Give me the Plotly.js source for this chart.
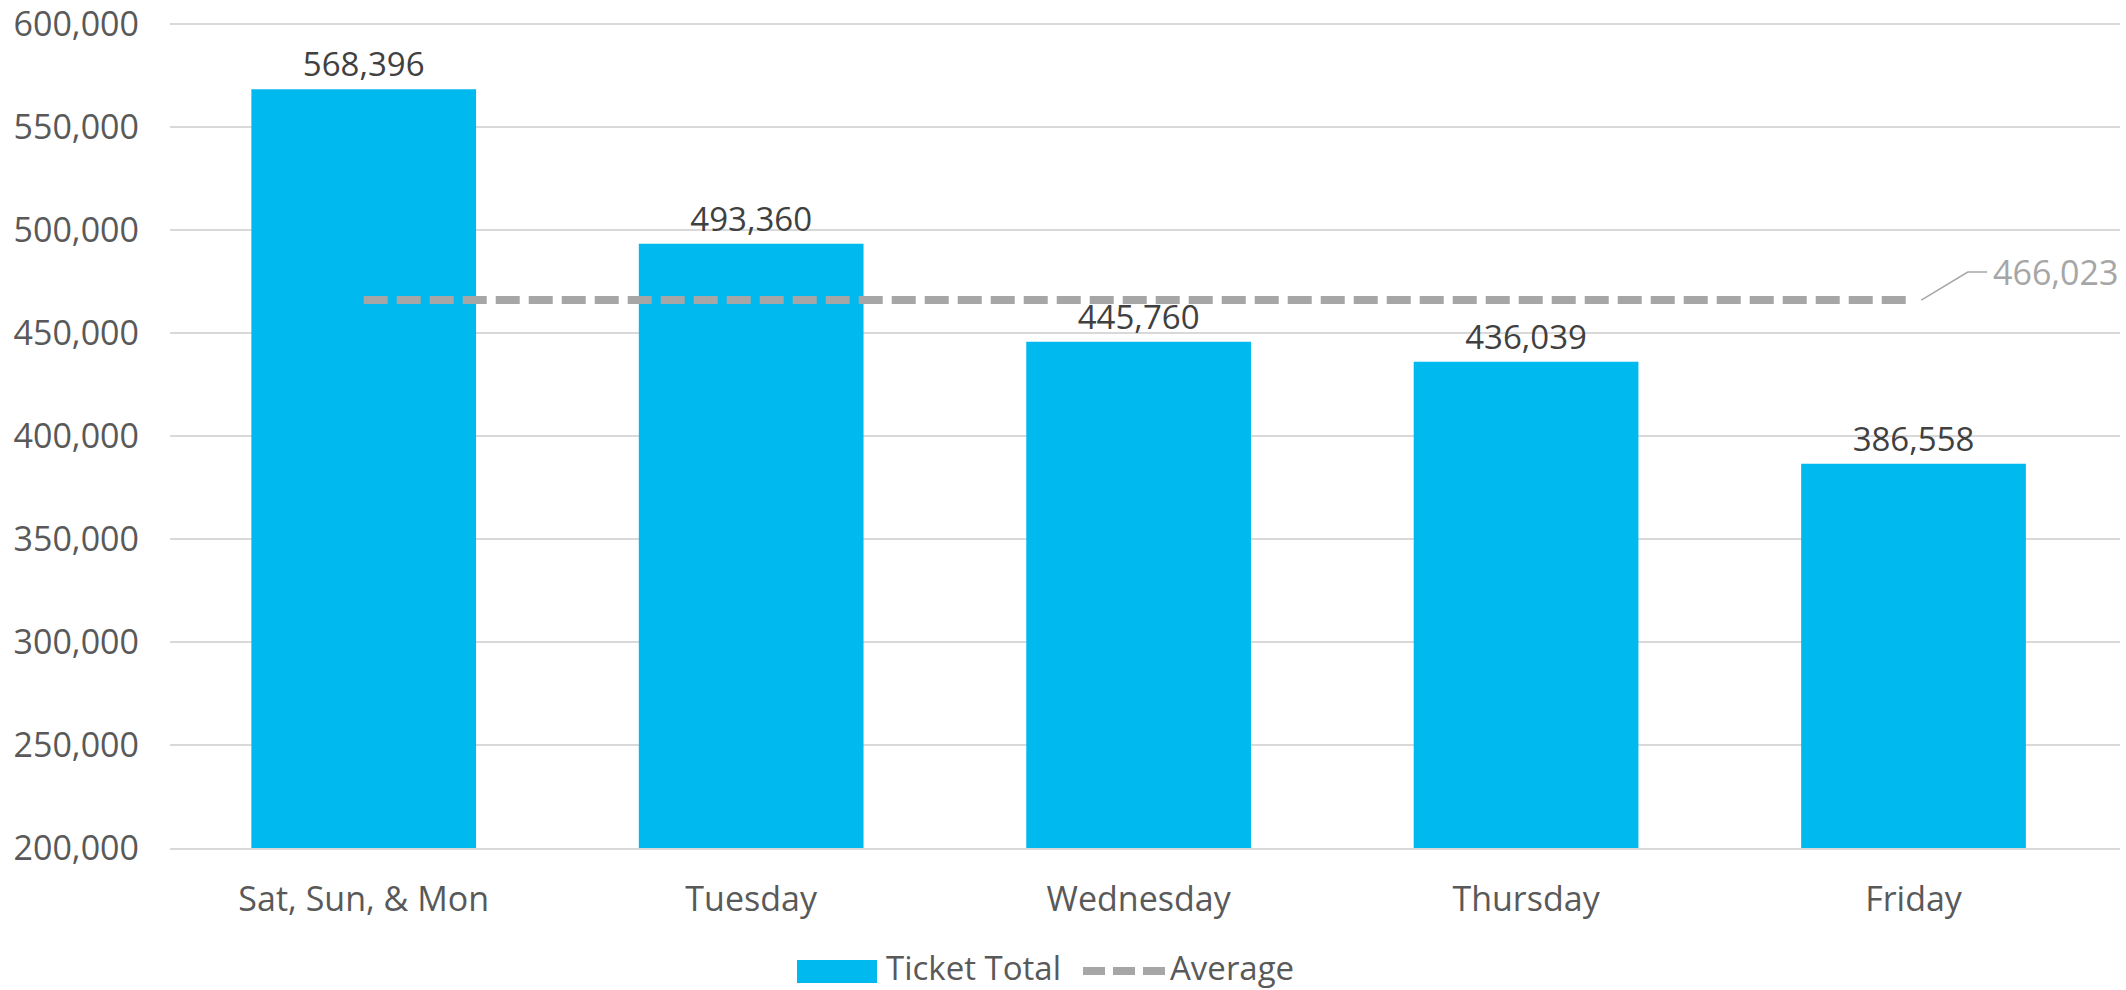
<!DOCTYPE html>
<html>
<head>
<meta charset="utf-8">
<script src="https://cdn.plot.ly/plotly-3.0.1.min.js"></script>
<style>html,body{margin:0;padding:0;background:#fff;}#chart{width:2126px;height:990px;}</style>
</head>
<body>
<div id="chart"></div>
<script>
const categories = ["Sat, Sun, & Mon", "Tuesday", "Wednesday", "Thursday", "Friday"];
const ticketTotal = [568396, 493360, 445760, 436039, 386558];
const averageValue = [466023];
const seriesNames = ["Ticket Total", "Average"];
const yTickVals = [200000, 250000, 300000, 350000, 400000, 450000, 500000, 550000, 600000];
const yTickText = ["200,000", "250,000", "300,000", "350,000", "400,000", "450,000", "500,000", "550,000", "600,000"];

const FONT = "Open Sans, Noto Sans, sans-serif";
const BLUE = "#00b9ef";
const GREY = "#a6a6a6";
const GRID = "#d9d9d9";
const avg = averageValue[0];
const last = categories.length - 1;

// plot geometry (px) for paper-coordinate legend
const L = 170, R = 6, T = 20, B = 142, W = 2126, H = 990;
const PW = W - L - R, PH = H - T - B;
const px = v => (v - L) / PW;
const py = v => (H - B - v) / PH;

const traces = [
  {
    type: "bar",
    name: seriesNames[0],
    x: categories,
    y: ticketTotal,
    marker: {color: BLUE},
    text: ticketTotal.map(v => v.toLocaleString("en-US")),
    textposition: "outside",
    textfont: {family: FONT, size: 33, color: "#404040"},
    cliponaxis: false,
    constraintext: "none",
    showlegend: false
  },
  {
    type: "scatter",
    mode: "lines",
    name: seriesNames[1],
    x: [categories[0], categories[last]],
    y: [avg, avg],
    line: {color: GREY, width: 8, dash: "24px,9px"},
    cliponaxis: false,
    showlegend: false
  }
];

const layout = {
  width: W,
  height: H,
  margin: {l: L, r: R, t: T, b: B},
  paper_bgcolor: "#ffffff",
  plot_bgcolor: "#ffffff",
  bargap: 0.42,
  showlegend: false,
  font: {family: FONT, color: "#595959", size: 33},
  xaxis: {
    type: "category",
    showgrid: false,
    showline: true,
    linecolor: GRID,
    linewidth: 2,
    ticks: "",
    zeroline: false,
    tickfont: {family: FONT, size: 34, color: "#595959"},
    ticklabelstandoff: 20,
    fixedrange: true
  },
  yaxis: {
    range: [200000, 602000],
    tickvals: yTickVals,
    ticktext: yTickText,
    showgrid: true,
    gridcolor: GRID,
    gridwidth: 2,
    zeroline: false,
    showline: false,
    ticks: "",
    tickfont: {family: FONT, size: 34, color: "#595959"},
    ticklabelstandoff: 30,
    ticklabeloverflow: "allow",
    fixedrange: true
  },
  shapes: [
    {
      type: "path",
      xref: "x",
      yref: "y",
      path: "M " + (last + 0.02) + "," + avg + " L " + (last + 0.14) + "," + (avg + 13600) + " L " + (last + 0.19) + "," + (avg + 13600),
      line: {color: GREY, width: 1.5}
    },
    // legend swatches
    {
      type: "rect", xref: "paper", yref: "paper",
      x0: px(797), x1: px(877), y0: py(983), y1: py(960),
      fillcolor: BLUE, line: {width: 0}
    },
    {
      type: "line", xref: "paper", yref: "paper",
      x0: px(1083), x1: px(1165), y0: py(971), y1: py(971),
      line: {color: GREY, width: 8, dash: "22px,8px"}
    }
  ],
  annotations: [
    {
      xref: "x",
      yref: "y",
      x: last + 0.2,
      y: avg + 13600,
      xanchor: "left",
      yanchor: "middle",
      text: avg.toLocaleString("en-US"),
      showarrow: false,
      font: {family: FONT, size: 34, color: GREY}
    },
    {
      xref: "paper", yref: "paper",
      x: px(884), y: py(967), xanchor: "left", yanchor: "middle",
      text: seriesNames[0], showarrow: false,
      font: {family: FONT, size: 33, color: "#595959"}
    },
    {
      xref: "paper", yref: "paper",
      x: px(1168), y: py(967), xanchor: "left", yanchor: "middle",
      text: seriesNames[1], showarrow: false,
      font: {family: FONT, size: 33, color: "#595959"}
    }
  ]
};

Plotly.newPlot("chart", traces, layout, {displayModeBar: false, staticPlot: true});
</script>
</body>
</html>
